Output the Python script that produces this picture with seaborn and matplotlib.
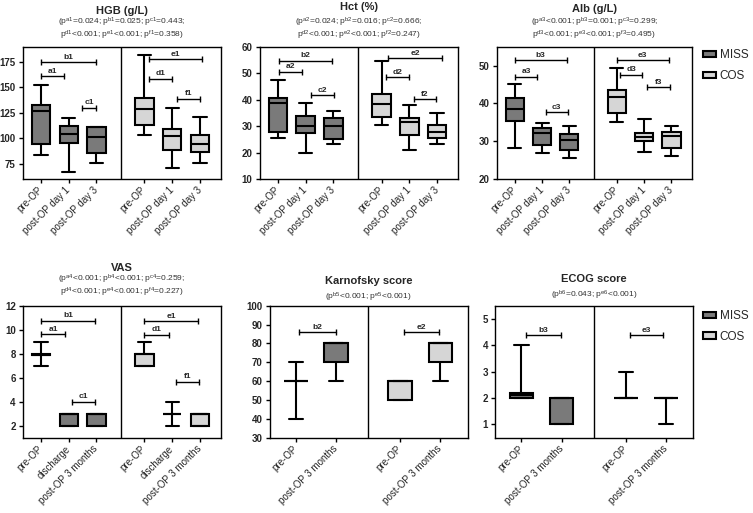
import numpy as np
import pandas as pd
import matplotlib
matplotlib.use("Agg")
import matplotlib.pyplot as plt
from matplotlib.patches import Patch
import seaborn as sns

# x categories
TIMES_LAB = ["pre-OP", "post-OP day 1", "post-OP day 3"]
TIMES_CLIN = ["pre-OP", "discharge", "post-OP 3 months"]
TIMES_SCORE = ["pre-OP", "post-OP 3 months"]

GROUPS = ["MISS", "COS"]

# five-number summaries (min, Q1, median, Q3, max)
hgb_miss = [[84, 94, 127, 133, 152], [67, 95, 104, 112.5, 120], [76, 86, 101, 111, 111]]
hgb_cos = [[103, 113.5, 128.5, 139.5, 182], [71, 88.5, 102, 109.5, 130], [76, 87, 94.5, 103.5, 121]]

hct_miss = [[25.6, 27.6, 38.6, 40.5, 47.4], [20, 27.5, 30.2, 33.9, 38.8], [23.2, 25, 30, 33, 35.7]]
hct_cos = [[30.4, 33.6, 38.3, 42.1, 54.7], [21, 26.6, 31.4, 32.9, 38.1], [23.2, 25.6, 27.6, 30.4, 34.8]]

alb_miss = [[28.3, 35.3, 38.4, 41.5, 45.1], [26.8, 29, 32.3, 33.6, 34.9], [25.6, 27.8, 30.3, 32, 34]]
alb_cos = [[35, 37.4, 41.8, 43.5, 49.4], [27.2, 30, 31.2, 32.3, 35.9], [26.1, 28.1, 31.5, 32.5, 34]]

vas_miss = [[7, 7.85, 7.9, 8, 9], [2, 2, 3, 3, 3], [2, 2, 3, 3, 3]]
vas_cos = [[7, 7, 8, 8, 9], [2, 3, 3, 3, 4], [2, 2, 3, 3, 3]]

kps_miss = [[40, 60, 60, 60, 70], [60, 70, 80, 80, 80]]
kps_cos = [[50, 50, 60, 60, 60], [60, 70, 80, 80, 80]]

ecog_miss = [[2, 2, 2.1, 2.2, 4], [1, 1, 2, 2, 2]]
ecog_cos = [[2, 2, 2, 2, 3], [1, 2, 2, 2, 2]]

# p-value subtitles
p_hgb = ["(p$^{a1}$=0.024; p$^{b1}$=0.025; p$^{c1}$=0.443;",
         "p$^{d1}$<0.001; p$^{e1}$<0.001; p$^{f1}$=0.358)"]
p_hct = ["(p$^{a2}$=0.024; p$^{b2}$=0.016; p$^{c2}$=0.666;",
         "p$^{d2}$<0.001; p$^{e2}$<0.001; p$^{f2}$=0.247)"]
p_alb = ["(p$^{a3}$<0.001; p$^{b3}$=0.001; p$^{c3}$=0.299;",
         "p$^{d3}$<0.001; p$^{e3}$<0.001; p$^{f3}$=0.495)"]
p_vas = ["(p$^{a4}$<0.001; p$^{b4}$<0.001; p$^{c4}$=0.259;",
         "p$^{d4}$<0.001; p$^{e4}$<0.001; p$^{f4}$=0.227)"]
p_kps = ["(p$^{b5}$<0.001; p$^{e5}$<0.001)"]
p_ecog = ["(p$^{b6}$=0.043; p$^{e6}$<0.001)"]

# significance brackets: (label, group, from category, to category, y value)
br_hgb = [("b1", "MISS", 0, 1.98, 175), ("a1", "MISS", 0, 0.84, 161), ("c1", "MISS", 1.49, 1.98, 130),
          ("e1", "COS", 0.17, 2.07, 177.6), ("d1", "COS", 0.17, 0.99, 158.5), ("f1", "COS", 1.18, 1.99, 138.8)]
br_hct = [("b2", "MISS", 0.03, 1.96, 54.7), ("a2", "MISS", 0.03, 0.87, 50.6), ("c2", "MISS", 1.19, 2.03, 41.7),
          ("e2", "COS", 0.22, 2.18, 55.6), ("d2", "COS", 0.16, 0.98, 48.4), ("f2", "COS", 1.16, 1.97, 40.2)]
br_alb = [("b3", "MISS", 0, 1.9, 51.4), ("a3", "MISS", 0, 0.82, 47.1), ("c3", "MISS", 1.13, 1.93, 37.6),
          ("e3", "COS", 0, 1.9, 51.5), ("d3", "COS", 0.1, 0.94, 47.6), ("f3", "COS", 1.12, 1.93, 44.3)]
br_vas = [("b1", "MISS", 0, 1.96, 10.76), ("a1", "MISS", 0, 0.87, 9.6), ("c1", "MISS", 1.11, 1.93, 4.0),
          ("e1", "COS", 0, 1.93, 10.73), ("d1", "COS", 0, 0.87, 9.57), ("f1", "COS", 1.15, 1.97, 5.65)]
br_kps = [("b2", "MISS", 0.08, 0.99, 86), ("e2", "COS", 0.08, 0.97, 86)]
br_ecog = [("b3", "MISS", 0.1, 0.98, 4.39), ("e3", "COS", 0.1, 0.93, 4.39)]

MISS_COLOR = "#7a7a7a"
COS_COLOR = "#d6d6d6"
PAL = {"MISS": MISS_COLOR, "COS": COS_COLOR}

W, H = 753, 513

sns.set_style("ticks")
plt.rcParams["font.family"] = ["Liberation Sans", "DejaVu Sans"]
plt.rcParams["mathtext.fontset"] = "custom"
plt.rcParams["mathtext.rm"] = "Liberation Sans"
plt.rcParams["mathtext.it"] = "Liberation Sans:italic"
plt.rcParams["mathtext.bf"] = "Liberation Sans:bold"
plt.rcParams["mathtext.default"] = "regular"
plt.rcParams["axes.edgecolor"] = "black"
plt.rcParams["axes.linewidth"] = 1.0


def px_axes(fig, left, right, top, bottom):
    return fig.add_axes([left / W, 1 - bottom / H, (right - left) / W, (bottom - top) / H])


def draw_panel(ax, title, ptext, times, miss, cos, ylim, yticks, brackets, head):
    n = len(times)
    shift = n + 0.73 if n == 3 else n + 0.6
    divider = n - 0.1 if n == 3 else n - 0.2
    width = 0.66 if n == 3 else 0.59
    capw = 0.48 if n == 3 else 0.36
    offsets = {"MISS": 0, "COS": shift}

    rows = []
    for grp, stats in zip(GROUPS, [miss, cos]):
        for i, five in enumerate(stats):
            for v in five:
                rows.append((grp, i + offsets[grp], v))
    df = pd.DataFrame(rows, columns=["group", "pos", "value"])

    sns.boxplot(data=df, x="pos", y="value", hue="group", hue_order=GROUPS,
                palette=PAL, saturation=1, native_scale=True, dodge=False,
                whis=(0, 100), width=width, linecolor="black", linewidth=1.5,
                fliersize=0, legend=False, orient="x", ax=ax, capwidths=capw)

    ax.axvline(divider, color="black", lw=1.0)

    for lab, grp, a, b, y in brackets:
        x1, x2 = a + offsets[grp], b + offsets[grp]
        ax.plot([x1, x2], [y, y], color="black", lw=1.0)
        ax.plot([x1, x2], [y, y], ls="none", marker="|", ms=5, mew=1.0, color="black")
        ax.annotate(lab, xy=((x1 + x2) / 2, y), xytext=(0, 1), textcoords="offset points",
                    ha="center", va="bottom", fontsize=6, fontweight="bold")

    ticks = [i for i in range(n)] + [i + shift for i in range(n)]
    ax.set_xticks(ticks)
    ax.set_xticklabels(times + times, rotation=45, ha="right", va="center",
                       rotation_mode="anchor", fontsize=7)
    ax.set_xlim(-0.66, shift + n - 1 + (0.75 if n == 3 else 0.68))
    ax.set_ylim(*ylim)
    ax.set_yticks(yticks)
    ax.set_yticklabels([str(t) for t in yticks], fontsize=7, fontweight="bold")
    ax.tick_params(axis="both", direction="out", length=3, width=1.0, color="black")
    ax.tick_params(axis="x", pad=4)
    ax.tick_params(axis="y", pad=2)
    ax.set_xlabel("")
    ax.set_ylabel("")
    for s in ax.spines.values():
        s.set_linewidth(1.0)

    t_off, sub_offs = head
    ax.annotate(title, xy=(0.5, 1), xycoords="axes fraction", xytext=(0, t_off * 0.72),
                textcoords="offset points", ha="center", va="center",
                fontsize=8, fontweight="bold")
    for line, off in zip(ptext, sub_offs):
        ax.annotate(line, xy=(0.5, 1), xycoords="axes fraction", xytext=(0, off * 0.72),
                    textcoords="offset points", ha="center", va="center",
                    fontsize=6.0, color="#333333")


fig = plt.figure(figsize=(W / 100, H / 100), dpi=100)

ax1 = px_axes(fig, 22.7, 220.7, 46.7, 179)
draw_panel(ax1, "HGB (g/L)", p_hgb, TIMES_LAB, hgb_miss, hgb_cos, (60, 190),
           [75, 100, 125, 150, 175], br_hgb, (36, (24.5, 11.5)))

ax2 = px_axes(fig, 259.5, 458, 46.7, 179)
draw_panel(ax2, "Hct (%)", p_hct, TIMES_LAB, hct_miss, hct_cos, (10, 60),
           [10, 20, 30, 40, 50, 60], br_hct, (39.4, (24.5, 11.5)))

ax3 = px_axes(fig, 496.7, 692, 46.7, 179)
draw_panel(ax3, "Alb (g/L)", p_alb, TIMES_LAB, alb_miss, alb_cos, (20, 55),
           [20, 30, 40, 50], br_alb, (38, (24.5, 11.5)))

ax4 = px_axes(fig, 22.7, 220.7, 305.7, 437.5)
draw_panel(ax4, "VAS", p_vas, TIMES_CLIN, vas_miss, vas_cos, (1, 12),
           [2, 4, 6, 8, 10, 12], br_vas, (38, (26.5, 13.5)))

ax5 = px_axes(fig, 269.5, 467.7, 305.7, 437.5)
draw_panel(ax5, "Karnofsky score", p_kps, TIMES_SCORE, kps_miss, kps_cos, (30, 100),
           list(range(30, 101, 10)), br_kps, (25, (8.3,)))

ax6 = px_axes(fig, 495, 693.3, 305.7, 437.5)
draw_panel(ax6, "ECOG score", p_ecog, TIMES_SCORE, ecog_miss, ecog_cos, (0.5, 5.5),
           [1, 2, 3, 4, 5], br_ecog, (26.7, (10.3,)))

handles = [Patch(facecolor=PAL[g], edgecolor="black", linewidth=1.5, label=g) for g in GROUPS]
for top in (49.5, 310):
    fig.legend(handles=handles, loc="upper left", bbox_to_anchor=(703 / W, 1 - top / H),
               frameon=False, fontsize=8.5, borderpad=0, borderaxespad=0,
               handlelength=1.1, handleheight=0.45, handletextpad=0.3, labelspacing=0.75)

fig.savefig("out.png", dpi=100)
